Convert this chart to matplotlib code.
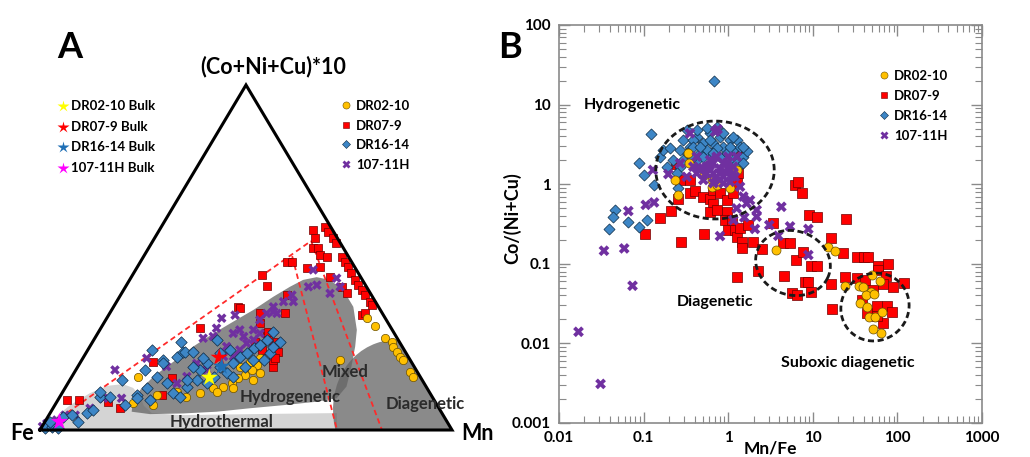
import numpy as np
import matplotlib
matplotlib.use("Agg")
import matplotlib.pyplot as plt
from matplotlib.patches import Polygon, Ellipse
from matplotlib.lines import Line2D

plt.rcParams['font.family'] = ['Lato', 'DejaVu Sans']
plt.rcParams['font.weight'] = 'bold'

# ---------------- panel A data: ternary, Mn % and (Co+Ni+Cu)*10 % (Fe = rest)
dr07_mn_a = [37.3, 39.7, 41.2, 43.4, 44.9, 38.9, 40.0, 41.2, 42.6, 44.5, 48.1, 49.6, 51.2, 52.9,
             54.7, 56.3, 57.8, 59.4, 61.5, 62.4, 48.2, 52.5, 54.6, 61.4, 62.0, 41.3, 44.3, 35.5,
             36.7, 31.4, 34.2, 40.3, 42.6, 30.3, 24.1, 41.0, 42.4, 46.5, 47.4, 46.5, 17.6, 2.1,
             5.0, 16.3, 12.5, 24.5, 24.5, 36.4, 37.9, 41.1, 44.8, 46.6, 39.4, 30.8, 42.3]
dr07_t_a = [58.0, 58.9, 57.5, 55.6, 54.1, 55.6, 52.7, 52.7, 50.7, 50.2, 50.2, 48.8, 47.3, 45.4,
            43.5, 42.0, 40.6, 39.1, 37.2, 36.2, 44.4, 41.5, 39.6, 33.3, 33.8, 46.9, 47.3, 48.8,
            48.8, 44.9, 41.7, 39.1, 33.8, 35.7, 29.5, 28.0, 26.1, 22.7, 18.4, 20.3, 19.8, 8.7,
            8.7, 6.3, 8.2, 10.1, 15.0, 33.9, 31.0, 28.4, 25.5, 20.9, 25.5, 35.4, 23.2]

dr02_mn_a = [63.1, 66.3, 70.4, 72.6, 73.7, 75.2, 76.7, 78.0, 81.4, 82.9, 62.6, 43.0, 43.2, 42.7,
             41.8, 40.6, 39.8, 38.2, 36.0, 33.5, 30.7, 27.6, 23.3, 23.9, 16.1, 18.8, 44.5, 39.3,
             45.2, 40.9, 37.3, 41.1]
dr02_t_a = [32.4, 30.0, 26.6, 25.6, 24.2, 22.7, 21.3, 20.3, 16.9, 15.5, 20.3, 20.8, 18.8, 17.4,
            15.9, 15.0, 13.5, 12.6, 12.1, 10.6, 9.7, 11.1, 10.1, 7.2, 15.5, 7.7, 14.5, 18.4,
            16.4, 12.1, 11.1, 19.8]

dr16_mn_a = [1.0, 2.3, 4.2, 1.2, 3.7, 5.5, 8.1, 8.9, 10.0, 9.7, 12.2, 12.6, 17.0, 18.4, 15.5,
             19.8, 22.5, 21.5, 23.4, 20.6, 19.8, 24.0, 27.1, 29.3, 30.8, 30.1, 33.7, 34.4, 34.5,
             37.1, 37.3, 37.8, 39.1, 40.0, 41.1, 42.0, 42.4, 45.5, 44.7, 44.1, 32.6, 30.9, 28.0,
             29.9, 28.4, 41.6, 39.1, 29.2, 22.3, 34.5, 29.2, 40.6, 44.5, 23.9, 25.8, 20.2, 16.8,
             9.1, 18.9]
dr16_t_a = [0.5, 1.0, 0.5, 2.4, 3.9, 4.3, 2.4, 4.8, 5.8, 9.7, 9.7, 14.5, 7.2, 10.1, 23.2,
            20.3, 21.3, 25.6, 22.7, 15.5, 12.1, 13.5, 10.6, 12.6, 14.5, 17.4, 13.5, 15.5, 18.4,
            16.4, 19.3, 21.3, 22.2, 23.7, 24.6, 26.1, 28.5, 25.6, 22.2, 20.3, 22.2, 19.3, 18.4,
            26.1, 14.5, 20.3, 15.5, 9.7, 8.7, 23.2, 20.8, 18.4, 24.2, 22.6, 22.6, 19.4, 17.4,
            11.0, 9.3]

h107_mn_a = [0.1, 0.7, 2.6, 3.9, 6.4, 9.0, 9.5, 15.2, 10.8, 15.5, 21.5, 26.5, 26.3, 28.5, 27.9,
             30.7, 28.1, 32.9, 34.0, 37.6, 37.3, 37.4, 38.1, 38.8, 40.6, 40.5, 41.6, 42.9, 44.4,
             46.2, 50.6, 52.1, 50.0, 43.1, 36.9, 33.2, 36.3, 27.9, 28.4, 38.8, 39.4, 35.9, 31.8,
             33.9, 39.5]
h107_t_a = [1.0, 1.9, 2.9, 4.3, 4.3, 6.3, 17.4, 9.2, 9.2, 20.8, 18.4, 13.5, 26.6, 27.1, 32.4,
            33.3, 29.5, 28.0, 29.0, 25.1, 29.0, 31.9, 33.8, 35.7, 33.8, 37.2, 39.1, 37.2, 41.5,
            42.0, 39.6, 41.5, 44.0, 46.4, 23.2, 24.2, 21.3, 15.5, 19.3, 26.1, 28.0, 27.1, 17.4,
            21.3, 34.3]

bulk_names = ['DR02-10 Bulk', 'DR07-9 Bulk', 'DR16-14 Bulk', '107-11H Bulk']
bulk_mn = [33.5, 33.0, 34.9, 3.5]
bulk_t = [15.2, 21.0, 18.4, 2.4]
bulk_colors = ['#ffff00', '#ff0000', '#1f6fb5', '#ff00ff']

# ---------------- panel B data: Mn/Fe vs Co/(Ni+Cu)
dr02_x = [0.235, 0.253, 0.338, 0.344, 0.518, 0.638, 0.638, 0.73, 1.05, 1.26, 3.67, 15.0, 18.3,
          24.0, 35.2, 39.5, 49.6, 62.3, 48.8, 42.6, 53.3, 36.1, 43.3, 46.1, 54.3, 65.1, 52.0, 64.0]
dr02_y = [1.13, 0.73, 2.44, 1.83, 1.31, 1.13, 0.93, 0.98, 0.89, 1.51, 0.149, 0.164, 0.146,
          0.053, 0.0526, 0.0506, 0.0723, 0.0614, 0.0447, 0.0405, 0.0413, 0.0318, 0.0289, 0.0213,
          0.0217, 0.0246, 0.0150, 0.0137]

dr07_x = [0.239, 0.253, 0.353, 0.353, 0.405, 0.508, 0.61, 0.667, 0.80, 0.96, 1.15, 1.26, 1.32,
          1.38, 0.667, 0.61, 0.73, 0.96, 0.92, 1.10, 1.0, 1.20, 1.26, 1.38, 1.44, 1.44, 1.73,
          1.98, 2.49, 2.23, 1.28, 0.518, 0.274, 0.211, 0.156, 0.104, 3.41, 4.48, 5.38, 4.57,
          6.17, 6.75, 7.38, 6.32, 7.72, 5.62, 6.56, 8.09, 8.86, 9.52, 9.52, 11.1, 9.02, 11.1,
          16.3, 16.3, 17.0, 23.0, 24.7, 24.0, 33.0, 40.3, 45.3, 33.0, 41.4, 58.5, 58.5, 78.1,
          73.3, 68.2, 89.5, 121, 37.8, 43.3, 56.9, 76.0, 85.5, 68.2, 56.9, 52.0, 0.27]
dr07_y = [1.78, 0.65, 1.13, 0.77, 0.81, 0.70, 0.66, 0.85, 0.77, 0.63, 0.77, 1.03, 1.37, 2.33,
          0.57, 0.45, 0.47, 0.45, 0.355, 0.355, 0.265, 0.265, 0.219, 0.279, 0.189, 0.156, 0.307,
          0.189, 0.152, 0.0818, 0.0676, 0.236, 0.186, 0.465, 0.38, 0.236, 0.329, 0.184, 0.184,
          0.0703, 0.98, 1.07, 0.78, 0.111, 0.142, 0.0425, 0.0405, 0.0596, 0.0596, 0.0447,
          0.0948, 0.0948, 0.41, 0.39, 0.213, 0.0557, 0.0270, 0.137, 0.361, 0.0689, 0.122, 0.122,
          0.122, 0.0656, 0.0625, 0.094, 0.0836, 0.0985, 0.0703, 0.0557, 0.0516, 0.0567, 0.0351,
          0.0239, 0.0295, 0.0295, 0.0251, 0.0182, 0.0221, 0.0469, 1.13]

dr16_x = [0.68, 0.123, 0.0875, 0.101, 0.133, 0.0463, 0.0438, 0.0386, 0.066, 0.088, 0.111, 0.156,
          0.171, 0.205, 0.225, 0.187, 0.258, 0.27, 0.295, 0.353, 0.323, 0.424, 0.508, 0.464,
          0.61, 0.667, 0.61, 0.80, 0.876, 0.80, 1.05, 1.15, 1.26, 1.38, 1.51, 1.38, 1.15, 0.96,
          0.73, 0.556, 0.424, 0.387, 0.27, 0.246, 0.556, 0.73, 0.424, 1.26, 1.65,
          0.323, 0.387, 0.508, 0.667, 0.876, 1.15, 1.51, 1.05, 0.61, 0.464, 0.295, 0.387, 1.51]
dr16_y = [19.8, 4.23, 1.83, 1.31, 0.98, 0.474, 0.39, 0.271, 0.336, 0.292, 0.355, 2.22, 2.69,
          2.82, 2.01, 1.66, 0.89, 1.66, 3.59, 2.96, 2.44, 3.95, 3.26, 2.44, 4.35, 3.26, 2.44,
          3.95, 2.96, 2.22, 3.59, 2.69, 3.59, 2.96, 2.22, 1.74, 2.01, 2.44, 5.28, 5.03, 4.80,
          3.59, 2.69, 1.37, 2.69, 2.82, 2.01, 1.83, 2.62,
          4.80, 2.96, 2.22, 2.44, 4.35, 3.95, 2.96, 2.96, 3.59, 2.96, 2.01, 2.22, 1.83]

h107_x = [0.017, 0.031, 0.034, 0.059, 0.074, 0.066, 0.106, 0.133, 0.129, 0.196, 0.80, 2.07, 3.06,
          3.91, 4.25, 5.38, 8.86, 8.86, 1.55, 2.17, 2.17, 1.65, 1.38, 1.51, 1.26, 1.15, 1.81,
          0.27, 0.353, 0.70, 0.424, 0.556, 0.667, 0.80, 0.96, 1.15, 0.876, 1.05, 0.61, 0.73,
          0.465, 0.667, 1.0, 0.80, 1.20, 0.387, 0.323,
          0.424, 0.508, 0.61, 0.73, 0.876, 1.05, 1.26, 0.96, 0.667, 0.556, 0.80, 1.15, 0.876,
          0.75, 0.70, 0.90, 1.10, 0.60, 0.50]
h107_y = [0.014, 0.0031, 0.146, 0.156, 0.053, 0.46, 0.55, 0.59, 1.51, 1.34, 0.223, 0.274, 0.307,
          0.225, 0.52, 0.295, 0.274, 0.129, 0.383, 0.474, 0.391, 0.574, 0.93, 0.70, 0.497, 0.355,
          0.63, 1.83, 4.35, 4.57, 2.22, 1.66, 1.37, 1.13, 1.37, 1.66, 1.83, 1.07, 2.01, 2.22,
          1.51, 1.03, 2.22, 1.58, 1.24, 1.66, 1.24,
          1.37, 1.13, 1.51, 1.24, 1.03, 1.51, 2.22, 1.83, 1.83, 1.37, 1.37, 1.37, 1.24,
          4.9, 1.20, 1.45, 1.25, 1.70, 1.60]

series_names = ['DR02-10', 'DR07-9', 'DR16-14', '107-11H']

YEL = '#ffc000'
RED = '#ff0000'
BLU = '#3d86c6'
PUR = '#7030a0'


def tern(mn, t):
    mn = np.asarray(mn, float) / 100
    t = np.asarray(t, float) / 100
    return mn + t / 2, t * np.sqrt(3) / 2


W, H = 1030, 457
fig = plt.figure(figsize=(W / 100, H / 100), dpi=100)


def fx(px):
    return px / W


def fy(py):
    return 1 - py / H


# ================= panel A
ax1 = fig.add_axes([0, 0, 480 / W, 1])
ax1.set_xlim(-40 / 412, 440 / 412)
ax1.set_ylim(-27 / 398.4, 430 / 398.4)
ax1.axis('off')

tri = Polygon([tern(0, 0), tern(100, 0), tern(0, 100)], closed=True, fc='none', ec='none',
              transform=ax1.transData)
ax1.add_patch(tri)

# fields
hydroth_mn = [0, 72.1, 69.6, 48.7, 31.8, 24.7, 21.7, 19.3, 16.5, 13.5, 9.9, 6.8, 3.7, 1.5]
hydroth_t = [0, 0, 4.9, 4.6, 4.3, 4.9, 7.0, 9.9, 12.2, 13.3, 12.8, 10.7, 7.2, 2.9]
xs, ys = tern(hydroth_mn, hydroth_t)
p = Polygon(np.column_stack([xs, ys]), closed=True, fc='#d4d4d4', ec='none', zorder=1)
ax1.add_patch(p)
p.set_clip_path(tri)

hydrog_mn = [19.6, 24.4, 32.4, 40.2, 47.8, 55.5, 63.1, 67.4, 68.1, 66.4, 64.4, 62.4, 58.2, 53.3,
             48.6, 45.0, 42.1, 39.9, 37.3, 34.4, 31.2, 28.1, 25.1, 22.5, 19.8, 18.5, 18.4]
hydrog_t = [5.3, 4.6, 4.8, 5.3, 6.3, 7.2, 8.2, 9.2, 12.6, 18.4, 24.2, 29.0, 35.7, 40.6,
            43.5, 44.3, 43.5, 41.5, 38.6, 34.8, 31.4, 28.0, 24.2, 19.8, 15.5, 11.6, 8.2]
xs, ys = tern(hydrog_mn, hydrog_t)
p = Polygon(np.column_stack([xs, ys]), closed=True, fc='#656565', alpha=0.76, ec='none',
            zorder=2, joinstyle='round')
ax1.add_patch(p)
p.set_clip_path(tri)

e = Ellipse((0.885, 0.03), 0.34, 0.40, angle=20, fc='#656565', alpha=0.76, ec='none', zorder=2)
ax1.add_patch(e)
e.set_clip_path(tri)

# red dashed boundaries
dash_lines = [((1.0, 0.5), (38.4, 54.8)), ((36.0, 50.4), (72.1, 0)), ((38.4, 54.8), (83.0, 0))]
for a, b in dash_lines:
    lx, ly = tern([a[0], b[0]], [a[1], b[1]])
    ax1.plot(lx, ly, color='#ff2a2a', lw=1.3, ls=(0, (3, 2)), zorder=3)

kw = dict(lw=0.5, zorder=5)
x, y = tern(dr07_mn_a, dr07_t_a)
ax1.scatter(x, y, s=32, marker='s', c=RED, edgecolors='#700000', **kw)
x, y = tern(dr02_mn_a, dr02_t_a)
ax1.scatter(x, y, s=36, marker='o', c=YEL, edgecolors='#6b5000', **kw)
x, y = tern(h107_mn_a, h107_t_a)
ax1.scatter(x, y, s=48, marker='X', c=PUR, edgecolors='none', zorder=5)
x, y = tern(dr16_mn_a, dr16_t_a)
ax1.scatter(x, y, s=34, marker='D', c=BLU, edgecolors='#0d2b45', **kw)
x, y = tern(bulk_mn, bulk_t)
ax1.scatter(x, y, s=170, marker='*', c=bulk_colors, edgecolors='none', zorder=6)

tx, ty = tern([0, 100, 0, 0], [0, 0, 100, 0])
ax1.plot(tx, ty, color='black', lw=2.2, zorder=7, solid_joinstyle='miter')

txt = dict(fontweight='bold')
fig.text(fx(70), fy(48), 'A', fontsize=26, ha='center', va='center', **txt)
fig.text(fx(273), fy(67), '(Co+Ni+Cu)*10', fontsize=15.5, ha='center', va='center', **txt)
fig.text(fx(22), fy(434), 'Fe', fontsize=15.5, ha='center', va='center', **txt)
fig.text(fx(461), fy(434), 'Mn', fontsize=15.5, ha='left', va='center', **txt)
fc = '#2b2b2b'
fig.text(fx(222), fy(422), 'Hydrothermal', fontsize=12, color=fc, ha='center', va='center', **txt)
fig.text(fx(290), fy(397), 'Hydrogenetic', fontsize=12, color=fc, ha='center', va='center', **txt)
fig.text(fx(345), fy(372), 'Mixed', fontsize=12, color=fc, ha='center', va='center', **txt)
fig.text(fx(425), fy(404), 'Diagenetic', fontsize=12, color=fc, ha='center', va='center', **txt)

# legends of panel A
for i, (nm, col) in enumerate(zip(bulk_names, bulk_colors)):
    yy = 106 + i * 20.6
    fig.add_artist(Line2D([fx(63)], [fy(yy)], marker='*', ms=9, color=col, mec='none', ls='none',
                          transform=fig.transFigure))
    fig.text(fx(71), fy(yy), nm, fontsize=9.5, ha='left', va='center', **txt)

leg_style = [('o', YEL, '#6b5000', 6), ('s', RED, '#700000', 5.5), ('D', BLU, '#0d2b45', 5),
             ('X', PUR, 'none', 6)]
for i, (nm, st) in enumerate(zip(series_names, leg_style)):
    yy = 106 + i * 19.7
    fig.add_artist(Line2D([fx(346)], [fy(yy - 1)], marker=st[0], ms=st[3] * 0.85, color=st[1],
                          mec=st[2], mew=0.4, ls='none', transform=fig.transFigure))
    fig.text(fx(356), fy(yy), nm, fontsize=9.5, ha='left', va='center', **txt)

# ================= panel B
ax2 = fig.add_axes([fx(559), fy(423), 423 / W, 398 / H])
ax2.set_xscale('log')
ax2.set_yscale('log')
ax2.set_xlim(0.01, 1000)
ax2.set_ylim(0.001, 100)

ax2.scatter(dr07_x, dr07_y, s=42, marker='s', c=RED, edgecolors='#700000', lw=0.5, zorder=3)
ax2.scatter(dr16_x, dr16_y, s=32, marker='D', c=BLU, edgecolors='#0d2b45', lw=0.5, zorder=4)
ax2.scatter(dr02_x, dr02_y, s=42, marker='o', c=YEL, edgecolors='#6b5000', lw=0.5, zorder=5)
ax2.scatter(h107_x, h107_y, s=60, marker='X', c=PUR, edgecolors='none', zorder=6)

# dashed fields (log-space ellipses)
fields = [(-0.156, 0.178, 0.70, 0.615, 0), (0.766, -0.99, 0.45, 0.40, -25),
          (1.735, -1.543, 0.40, 0.43, -20)]
tt = np.linspace(0, 2 * np.pi, 200)
for cx, cy, a, b, ang in fields:
    r = np.deg2rad(ang)
    lx = cx + a * np.cos(tt) * np.cos(r) - b * np.sin(tt) * np.sin(r)
    ly = cy + a * np.cos(tt) * np.sin(r) + b * np.sin(tt) * np.cos(r)
    ax2.plot(10 ** lx, 10 ** ly, color='#1a1a1a', lw=2.0, ls=(0, (2.2, 1.3)), zorder=7)

ax2.set_xticks([0.01, 0.1, 1, 10, 100, 1000])
ax2.set_xticklabels(['0.01', '0.1', '1', '10', '100', '1000'])
ax2.set_yticks([0.001, 0.01, 0.1, 1, 10, 100])
ax2.set_yticklabels(['0.001', '0.01', '0.1', '1', '10', '100'])
for sp in ax2.spines.values():
    sp.set_color('#8a8a8a')
    sp.set_linewidth(1.2)
ax2.tick_params(which='both', direction='in', top=True, right=True, color='#8a8a8a',
                labelsize=11)
ax2.tick_params(which='major', length=8, width=1.0, pad=6)
ax2.tick_params(which='minor', length=5, width=0.8)
for lab in ax2.get_xticklabels() + ax2.get_yticklabels():
    lab.set_fontweight('bold')

fig.text(fx(510), fy(48), 'B', fontsize=26, ha='center', va='center', **txt)
fig.text(fx(512), fy(218), 'Co/(Ni+Cu)', fontsize=13, rotation=90, ha='center', va='center', **txt)
fig.text(fx(770), fy(448), 'Mn/Fe', fontsize=12.5, ha='center', va='center', **txt)
fig.text(fx(632), fy(105), 'Hydrogenetic', fontsize=11.5, ha='center', va='center', **txt)
fig.text(fx(715), fy(302), 'Diagenetic', fontsize=11.5, ha='center', va='center', **txt)
fig.text(fx(848), fy(363), 'Suboxic diagenetic', fontsize=11.5, ha='center', va='center', **txt)

for i, (nm, st) in enumerate(zip(series_names, leg_style)):
    yy = 76 + i * 20
    fig.add_artist(Line2D([fx(884)], [fy(yy - 1)], marker=st[0], ms=st[3] * 0.85, color=st[1],
                          mec=st[2], mew=0.4, ls='none', transform=fig.transFigure))
    fig.text(fx(894), fy(yy), nm, fontsize=9.5, ha='left', va='center', **txt)

fig.savefig('out.png', dpi=100)
